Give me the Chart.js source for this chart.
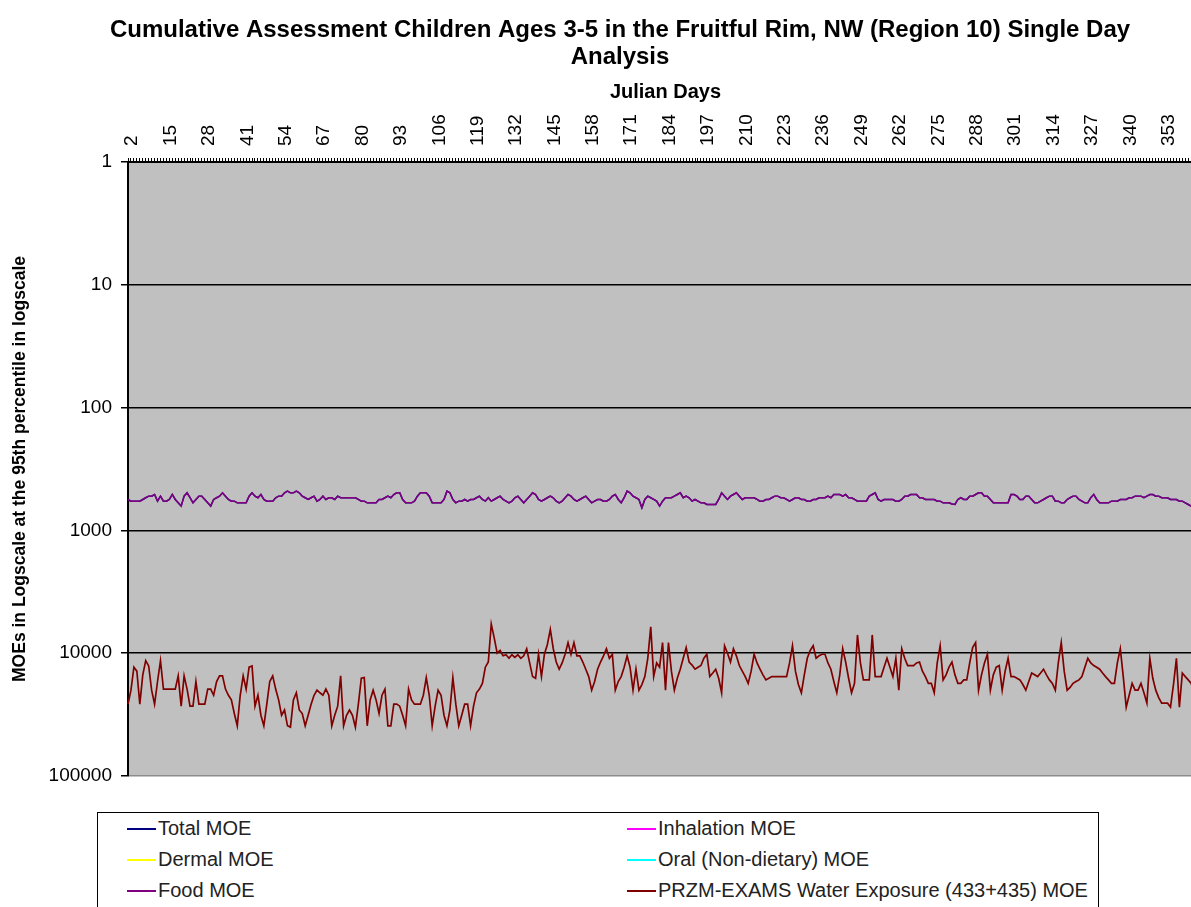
<!DOCTYPE html>
<html>
<head>
<meta charset="utf-8">
<script src="https://cdn.jsdelivr.net/npm/chart.js@4/dist/chart.umd.min.js"></script>
<style>
    html, body { margin: 0; padding: 0; background: #fff; overflow: hidden; }
    #wrap { position: relative; width: 1191px; height: 907px; overflow: hidden; }
    #moeChart { position: absolute; left: 0; top: 0; }
    #legendBox {
        position: absolute; left: 97px; top: 812px; width: 1000px; height: 110px;
        border: 1px solid #000; background: #fff;
        display: grid; grid-template-columns: 500px 500px; grid-template-rows: 31px 31px 31px;
        grid-auto-flow: column;
        font-family: "Liberation Sans", Arial, sans-serif; font-size: 20px; color: #222;
    }
    .legend-item { display: flex; align-items: center; padding-left: 29px; }
    .legend-line { width: 29px; height: 2px; margin-right: 2px; }
</style>
</head>
<body>
<div id="wrap">
    <canvas id="moeChart" width="1240" height="800"></canvas>
    <div id="legendBox"></div>
</div>
<script>
// Julian days 1..365 (categories)
const julianDays = Array.from({ length: 365 }, (_, i) => i + 1);

// Labelled days on the top axis
const xTickLabels = [2, 15, 28, 41, 54, 67, 80, 93, 106, 119, 132, 145, 158, 171, 184, 197, 210, 223,
    236, 249, 262, 275, 288, 301, 314, 327, 340, 353];

// Log axis ticks
const yTickValues = [1, 10, 100, 1000, 10000, 100000];

// Food MOE
const foodMoe = [
    560, 578, 578, 578, 578, 560, 542, 526, 526, 510,
    578, 526, 578, 578, 560, 510, 560, 596, 634, 526,
    494, 542, 596, 560, 526, 526, 560, 596, 634, 560,
    542, 526, 494, 526, 560, 578, 578, 596, 596, 596,
    596, 526, 494, 526, 542, 510, 560, 578, 578, 578,
    542, 526, 526, 494, 479, 494, 494, 479, 494, 526,
    542, 560, 542, 526, 578, 560, 526, 560, 542, 542,
    560, 526, 542, 542, 542, 542, 542, 542, 560, 578,
    578, 596, 596, 596, 596, 560, 560, 542, 526, 542,
    510, 494, 494, 560, 596, 596, 596, 578, 526, 494,
    494, 494, 526, 596, 596, 596, 596, 560, 479, 494,
    560, 596, 578, 578, 560, 578, 560, 560, 542, 526,
    560, 578, 542, 578, 560, 542, 526, 560, 578, 596,
    578, 542, 526, 560, 596, 560, 526, 494, 510, 560,
    578, 560, 542, 526, 542, 578, 596, 578, 542, 510,
    526, 560, 578, 560, 542, 526, 560, 596, 578, 560,
    560, 578, 578, 560, 526, 510, 560, 596, 542, 479,
    494, 526, 542, 560, 655, 560, 526, 542, 560, 578,
    634, 578, 542, 542, 542, 526, 510, 494, 542, 526,
    542, 578, 560, 578, 596, 596, 615, 615, 615, 615,
    560, 494, 526, 560, 526, 510, 494, 526, 560, 542,
    542, 542, 542, 560, 578, 578, 560, 560, 542, 526,
    526, 542, 542, 560, 578, 560, 542, 542, 560, 560,
    578, 578, 560, 560, 542, 542, 542, 526, 542, 510,
    510, 510, 526, 510, 542, 542, 560, 578, 578, 578,
    578, 526, 510, 494, 560, 578, 560, 560, 560, 560,
    578, 578, 560, 526, 526, 510, 510, 510, 542, 542,
    560, 560, 560, 560, 578, 578, 596, 596, 596, 610,
    615, 560, 542, 560, 560, 526, 526, 510, 494, 494,
    526, 526, 560, 596, 596, 596, 596, 596, 596, 510,
    510, 526, 560, 560, 526, 526, 560, 596, 596, 578,
    560, 542, 526, 526, 578, 578, 596, 596, 560, 542,
    526, 526, 560, 578, 596, 596, 542, 510, 560, 596,
    596, 596, 596, 578, 578, 578, 560, 560, 560, 542,
    542, 526, 526, 526, 542, 526, 510, 510, 526, 526,
    542, 542, 542, 560, 560, 560, 578, 578, 596, 615,
    634, 655, 634, 615, 600
];

// Total MOE sits under the food line in the picture
const totalMoe = foodMoe.slice();

// PRZM-EXAMS water exposure MOE
const waterMoe = [
    26000, 20000, 13000, 14000, 26000, 15000, 11500, 12700, 20000, 26000,
    17000, 11500, 19600, 19600, 19600, 19600, 19600, 15300, 27000, 15300,
    19600, 27000, 27000, 17000, 26000, 26000, 26000, 19600, 19600, 22000,
    17000, 15300, 15300, 19600, 22000, 24000, 31000, 39000, 22000, 15300,
    19600, 13000, 12700, 27000, 22000, 32000, 39000, 26000, 17000, 15300,
    19600, 24000, 32000, 29000, 39000, 40000, 24000, 21000, 29000, 31000,
    39000, 32000, 26000, 22000, 20000, 21000, 22000, 19600, 22000, 39000,
    32000, 27000, 15300, 39000, 32000, 29000, 32000, 40000, 26000, 16000,
    15800, 39000, 24000, 20000, 24000, 31000, 22000, 19600, 39000, 39000,
    26000, 26000, 27000, 32000, 39000, 19600, 24000, 26000, 26000, 26000,
    22000, 15800, 22000, 39000, 27000, 20000, 22000, 32000, 39000, 29000,
    15800, 26000, 39000, 32000, 26000, 26000, 39000, 27000, 21000, 19600,
    17600, 13000, 11800, 5800, 7500, 10000, 9500, 10500, 10300, 11000,
    10300, 10800, 10300, 11000, 10500, 9200, 12000, 15500, 16000, 10200,
    15500, 10200, 8500, 6400, 9200, 11800, 13500, 12000, 10200, 8200,
    10200, 8200, 10500, 10500, 11800, 13500, 15500, 20000, 17000, 13500,
    11800, 10500, 9200, 11000, 10200, 20000, 17000, 15500, 13000, 10500,
    13000, 20000, 13500, 20000, 18000, 15500, 11000, 6100, 15500, 12000,
    13000, 8200, 20000, 8200, 14000, 20000, 16000, 13500, 11000, 9000,
    11800, 12500, 13500, 13000, 12600, 11000, 10200, 15500, 14500, 13500,
    16000, 21000, 8700, 10000, 11800, 9200, 10500, 12600, 14000, 15500,
    17600, 14000, 10200, 12000, 13500, 15000, 16500, 16000, 15500, 15500,
    15500, 15500, 15500, 15500, 12000, 8700, 14000, 18000, 21000, 15000,
    11000, 9500, 8700, 11000, 10500, 10200, 10200, 12000, 13500, 17000,
    21000, 15000, 9200, 11800, 16000, 21000, 17600, 7100, 12000, 16500,
    16500, 16500, 7100, 15500, 15500, 15500, 13000, 11000, 13000, 15500,
    11000, 20000, 9200, 11000, 12600, 12600, 12600, 12000, 11800, 14000,
    15500, 17600, 17600, 21000, 12000, 8700, 16500, 15000, 13000, 11800,
    15000, 17600, 17600, 16500, 16500, 12000, 9000, 8200, 20000, 15000,
    12000, 10200, 20000, 15000, 13000, 12600, 20000, 14000, 11000, 15500,
    15500, 16000, 16500, 18000, 20000, 17000, 14500, 15000, 15500, 14500,
    13500, 15000, 16500, 17600, 20000, 12000, 8200, 14000, 20000, 19000,
    17600, 17000, 16500, 15500, 13000, 11000, 12000, 12600, 13000, 13500,
    14500, 15500, 16500, 17600, 17600, 12000, 9200, 15500, 27500, 22000,
    17600, 20000, 20000, 17600, 21000, 25500, 11000, 16000, 20000, 23000,
    25500, 25500, 25500, 27500, 18000, 11000, 27500, 14500, 15500, 16500,
    17600, 21000, 15000, 19000, 22000
];

// These series are off the plotted range (nothing shown)
const dermalMoe = [];
const inhalationMoe = [];
const oralMoe = [];

document.addEventListener('DOMContentLoaded', function() {
    const fontFamily = '"Liberation Sans", Arial, sans-serif';

    // Gray plot area
    const plotBackground = {
        id: 'plotBackground',
        beforeDraw(chart) {
            const { ctx, chartArea } = chart;
            ctx.save();
            ctx.fillStyle = '#c0c0c0';
            ctx.fillRect(chartArea.left, chartArea.top, chartArea.right - chartArea.left, chartArea.bottom - chartArea.top);
            ctx.restore();
        }
    };

    // later series are drawn on top, like the original
    function series(label, data, color, order, width) {
        return {
            label: label,
            data: data,
            borderColor: color,
            backgroundColor: color,
            borderWidth: width,
            pointRadius: 0,
            tension: 0,
            fill: false,
            order: order
        };
    }

    const ctx = document.getElementById('moeChart').getContext('2d');
    const moeChart = new Chart(ctx, {
        type: 'line',
        data: {
            labels: julianDays,
            datasets: [
                series('Total MOE', totalMoe, '#000080', 6, 1.5),
                series('Dermal MOE', dermalMoe, '#ffff00', 5, 1.5),
                series('Food MOE', foodMoe, '#800080', 4, 1.5),
                series('Inhalation MOE', inhalationMoe, '#ff00ff', 3, 1.5),
                series('Oral (Non-dietary) MOE', oralMoe, '#00ffff', 2, 1.5),
                series('PRZM-EXAMS Water Exposure (433+435) MOE', waterMoe, '#800000', 1, 1.7)
            ]
        },
        options: {
            responsive: false,
            animation: false,
            layout: { padding: { left: 0, right: 0, top: 0, bottom: 24 } },
            plugins: {
                legend: { display: false },
                tooltip: { enabled: false },
                title: {
                    display: true,
                    text: ['Cumulative Assessment Children Ages 3-5 in the Fruitful Rim, NW (Region 10) Single Day', 'Analysis'],
                    color: '#000',
                    font: { family: fontFamily, size: 24, weight: 'bold', lineHeight: 1.125 },
                    padding: { top: 16.5, bottom: 4 }
                }
            },
            scales: {
                x: {
                    type: 'category',
                    position: 'top',
                    offset: false,
                    afterFit: function(scale) { scale.height = 87.5; },
                    title: {
                        display: true,
                        text: 'Julian Days',
                        color: '#000',
                        font: { family: fontFamily, size: 20, weight: 'bold' },
                        padding: { top: 6, bottom: 0 }
                    },
                    ticks: {
                        autoSkip: false,
                        maxRotation: 90,
                        minRotation: 90,
                        padding: 12,
                        labelOffset: 24,
                        color: '#000',
                        font: { family: fontFamily, size: 19 },
                        callback: function(value, index) {
                            const day = julianDays[index];
                            return xTickLabels.includes(day) ? String(day) : '';
                        }
                    },
                    grid: {
                        drawOnChartArea: false,
                        drawTicks: true,
                        tickLength: 4,
                        color: '#000'
                    },
                    border: { display: true, color: '#000', width: 2 }
                },
                y: {
                    type: 'logarithmic',
                    reverse: true,
                    min: 1,
                    max: 100000,
                    afterFit: function(scale) { scale.width = 128; },
                    afterBuildTicks: function(scale) {
                        scale.ticks = yTickValues.map(v => ({ value: v }));
                    },
                    title: {
                        display: true,
                        text: 'MOEs in Logscale at the 95th percentile in logscale',
                        color: '#000',
                        font: { family: fontFamily, size: 17.5, weight: 'bold' },
                        padding: { top: 10, bottom: 0 }
                    },
                    ticks: {
                        padding: 9,
                        color: '#000',
                        font: { family: fontFamily, size: 19 },
                        callback: function(value) { return String(value); }
                    },
                    grid: {
                        color: function(c) { return c.tick && c.tick.value === 100000 ? '#8c8c8c' : '#000'; },
                        tickColor: '#000',
                        lineWidth: 1.5,
                        tickLength: 7
                    },
                    border: { display: true, color: '#000', width: 2 }
                },
                // empty strip on the right: the plot runs past the picture edge
                rightGap: {
                    type: 'linear',
                    position: 'right',
                    afterFit: function(scale) { scale.width = 37; },
                    ticks: { display: false },
                    grid: { display: false },
                    border: { display: false }
                }
            }
        },
        plugins: [plotBackground]
    });

    // Build the boxed legend from the chart datasets
    const legendBox = document.getElementById('legendBox');
    moeChart.data.datasets.forEach(function(ds) {
        const item = document.createElement('div');
        item.className = 'legend-item';
        item.innerHTML = '<span class="legend-line" style="background:' + ds.borderColor + '"></span><span>' + ds.label + '</span>';
        legendBox.appendChild(item);
    });
});
</script>
</body>
</html>
